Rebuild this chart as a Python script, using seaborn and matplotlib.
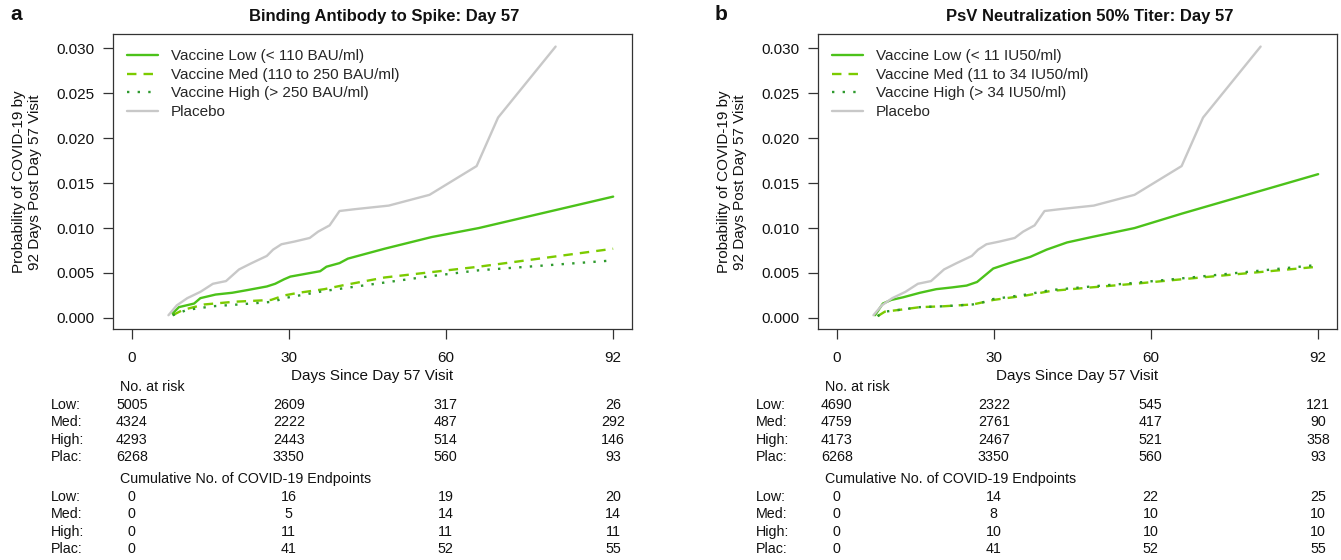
import numpy as np
import pandas as pd
import matplotlib
matplotlib.use("Agg")
import matplotlib.pyplot as plt
import matplotlib.transforms as mtransforms
from matplotlib.ticker import FormatStrFormatter
import seaborn as sns

# ---- curves (day, cumulative probability) ----
plac_day = [7.0, 8.6, 10.6, 13.1, 15.5, 18.0, 20.5, 22.9, 25.8, 27.0, 28.6, 31.1, 34.0,
            35.6, 37.8, 39.7, 42.6, 49.1, 56.9, 65.9, 70.0, 81.0]
plac_prob = [0.0003, 0.0014, 0.0022, 0.0029, 0.0038, 0.0041, 0.0054, 0.0061, 0.0069,
             0.0076, 0.0082, 0.0085, 0.0089, 0.0096, 0.0103, 0.0119, 0.0121, 0.0125,
             0.0137, 0.0169, 0.0223, 0.0302]

# panel a: binding antibody
ab_low_day = [7.8, 9.0, 11.9, 13.1, 16.0, 19.2, 22.1, 25.8, 27.4, 29.1, 30.3, 36.0, 37.2,
              39.7, 41.3, 48.3, 57.3, 66.3, 92.0]
ab_low_prob = [0.0005, 0.0012, 0.0016, 0.0022, 0.0026, 0.0028, 0.0031, 0.0035, 0.0038,
               0.0043, 0.0046, 0.0052, 0.0057, 0.0061, 0.0066, 0.0077, 0.0090, 0.0100, 0.0135]
ab_med_day = [7.8, 9.8, 13.9, 19.6, 26.6, 29.1, 31.9, 36.8, 40.1, 48.3, 57.3, 66.3, 92.0]
ab_med_prob = [0.0003, 0.0009, 0.0015, 0.0018, 0.0020, 0.0025, 0.0028, 0.0032, 0.0036,
               0.0045, 0.0051, 0.0057, 0.0077]
ab_high_day = [7.8, 10.6, 15.5, 20.5, 27.0, 29.1, 36.8, 46.6, 56.5, 66.3, 92.0]
ab_high_prob = [0.0003, 0.0009, 0.0013, 0.0015, 0.0018, 0.0022, 0.0030, 0.0038, 0.0046,
                0.0053, 0.0064]

# panel b: pseudovirus neutralization
nab_low_day = [7.3, 8.8, 10.4, 12.7, 15.9, 19.0, 22.1, 24.8, 26.8, 29.9, 33.0, 37.0, 40.1,
               44.0, 48.7, 56.9, 65.9, 92.0]
nab_low_prob = [0.0003, 0.0016, 0.0020, 0.0023, 0.0028, 0.0032, 0.0034, 0.0036, 0.0040,
                0.0055, 0.0061, 0.0068, 0.0076, 0.0084, 0.0090, 0.0100, 0.0116, 0.0160]
nab_med_day = [7.8, 9.2, 12.0, 15.9, 20.5, 26.0, 28.4, 29.9, 36.2, 40.9, 48.7, 56.9, 65.9, 92.0]
nab_med_prob = [0.0002, 0.0007, 0.0009, 0.0012, 0.0013, 0.0015, 0.0018, 0.0020, 0.0025,
                0.0030, 0.0034, 0.0038, 0.0043, 0.0057]
nab_high_day = [7.8, 9.2, 12.0, 15.9, 20.5, 26.0, 28.4, 29.9, 36.2, 40.9, 48.7, 56.9, 65.9, 92.0]
nab_high_prob = [0.0002, 0.0007, 0.0009, 0.0012, 0.0013, 0.0015, 0.0018, 0.0021, 0.0026,
                 0.0031, 0.0035, 0.0039, 0.0044, 0.0059]

# ---- risk tables ----
table_days = [0, 30, 60, 92]
row_names = ["Low:", "Med:", "High:", "Plac:"]

ab_risk_low = [5005, 2609, 317, 26]
ab_risk_med = [4324, 2222, 487, 292]
ab_risk_high = [4293, 2443, 514, 146]
ab_risk_plac = [6268, 3350, 560, 93]
ab_cum_low = [0, 16, 19, 20]
ab_cum_med = [0, 5, 14, 14]
ab_cum_high = [0, 11, 11, 11]
ab_cum_plac = [0, 41, 52, 55]

nab_risk_low = [4690, 2322, 545, 121]
nab_risk_med = [4759, 2761, 417, 90]
nab_risk_high = [4173, 2467, 521, 358]
nab_risk_plac = [6268, 3350, 560, 93]
nab_cum_low = [0, 14, 22, 25]
nab_cum_med = [0, 8, 10, 10]
nab_cum_high = [0, 10, 10, 10]
nab_cum_plac = [0, 41, 52, 55]

ab_labels = ["Vaccine Low (< 110 BAU/ml)", "Vaccine Med (110 to 250 BAU/ml)",
             "Vaccine High (> 250 BAU/ml)", "Placebo"]
nab_labels = ["Vaccine Low (< 11 IU50/ml)", "Vaccine Med (11 to 34 IU50/ml)",
              "Vaccine High (> 34 IU50/ml)", "Placebo"]

colors = ["#4cc21a", "#7ccb00", "#2e9a2e", "#c8c8c8"]
dash_styles = ["", (4, 3), (1, 3.5), ""]

sns.set_theme(style="white")
plt.rcParams["font.family"] = ["Liberation Sans", "DejaVu Sans"]

W, H = 1341, 560
BOX_TOP, BOX_BOT, BOX_W = 34, 328.7, 519
TXT = "#111111"
fig = plt.figure(figsize=(W / 100, H / 100), dpi=100)


def px_y(y):
    return 1 - y / H


def draw_panel(left_px, letter, title, labels, curves, risk_rows, cum_rows):
    ax = fig.add_axes([left_px / W, px_y(BOX_BOT), BOX_W / W, (BOX_BOT - BOX_TOP) / H])

    frames = []
    for lab, (d, p) in zip(labels, curves):
        frames.append(pd.DataFrame({"day": d, "prob": p, "group": lab}))
    df = pd.concat(frames, ignore_index=True)

    sns.lineplot(data=df, x="day", y="prob", hue="group", style="group",
                 hue_order=labels, style_order=labels,
                 palette=dict(zip(labels, colors)), dashes=dict(zip(labels, dash_styles)),
                 linewidth=1.7, estimator=None, sort=False, ax=ax)

    ax.set_xlim(-3.6, 95.6)
    ax.set_ylim(-0.0012, 0.0316)
    ax.set_xticks(table_days)
    ax.set_yticks([0.0, 0.005, 0.010, 0.015, 0.020, 0.025, 0.030])
    ax.yaxis.set_major_formatter(FormatStrFormatter("%.3f"))
    ax.tick_params(axis="both", which="major", direction="out", length=7, width=0.9,
                   color="#333333", labelsize=11, labelcolor=TXT, bottom=True, left=True)
    ax.tick_params(axis="x", pad=9)
    ax.tick_params(axis="y", pad=6)
    for sp in ax.spines.values():
        sp.set_color("#333333")
        sp.set_linewidth(0.9)
    ax.set_xlabel("")
    ax.set_ylabel("")

    handles, _ = ax.get_legend_handles_labels()
    ax.legend(handles, labels, loc="upper left", bbox_to_anchor=(0.027, 0.948),
              frameon=False, fontsize=11, handlelength=2.0, handletextpad=0.85,
              labelspacing=0.3, borderpad=0, borderaxespad=0)

    # titles and labels
    cx = (left_px + BOX_W / 2 + 12) / W
    fig.text(cx, px_y(17), title, ha="center", va="center", fontsize=12,
             fontweight="bold", color=TXT)
    fig.text((left_px - 103) / W, px_y(15), letter, ha="left", va="center",
             fontsize=15, fontweight="bold", color=TXT)
    fig.text((left_px - 86) / W, px_y(182), "Probability of COVID-19 by\n92 Days Post Day 57 Visit",
             rotation=90, ha="center", va="center", fontsize=11, linespacing=1.18,
             color=TXT)

    tr = mtransforms.blended_transform_factory(ax.transData, fig.transFigure)
    ax.text(46, px_y(376), "Days Since Day 57 Visit", transform=tr, ha="center",
            va="center", fontsize=11, color=TXT)

    ax.text(-2.2, px_y(387), "No. at risk", transform=tr, ha="left", va="center",
            fontsize=10.3, color=TXT)
    ax.text(-2.2, px_y(479), "Cumulative No. of COVID-19 Endpoints", transform=tr,
            ha="left", va="center", fontsize=10.3, color=TXT)
    for block, y0 in ((risk_rows, 405), (cum_rows, 497)):
        for i, (name, vals) in enumerate(zip(row_names, block)):
            yy = px_y(y0 + i * 17.3)
            ax.text(-15.4, yy, name, transform=tr, ha="left", va="center",
                    fontsize=10.3, color=TXT)
            for d, v in zip(table_days, vals):
                ax.text(d, yy, str(v), transform=tr, ha="center", va="center",
                        fontsize=10.3, color=TXT)
    return ax


draw_panel(113, "a", "Binding Antibody to Spike: Day 57", ab_labels,
           [(ab_low_day, ab_low_prob), (ab_med_day, ab_med_prob),
            (ab_high_day, ab_high_prob), (plac_day, plac_prob)],
           [ab_risk_low, ab_risk_med, ab_risk_high, ab_risk_plac],
           [ab_cum_low, ab_cum_med, ab_cum_high, ab_cum_plac])

draw_panel(818, "b", "PsV Neutralization 50% Titer: Day 57", nab_labels,
           [(nab_low_day, nab_low_prob), (nab_med_day, nab_med_prob),
            (nab_high_day, nab_high_prob), (plac_day, plac_prob)],
           [nab_risk_low, nab_risk_med, nab_risk_high, nab_risk_plac],
           [nab_cum_low, nab_cum_med, nab_cum_high, nab_cum_plac])

fig.savefig("out.png", dpi=100, facecolor="white")
